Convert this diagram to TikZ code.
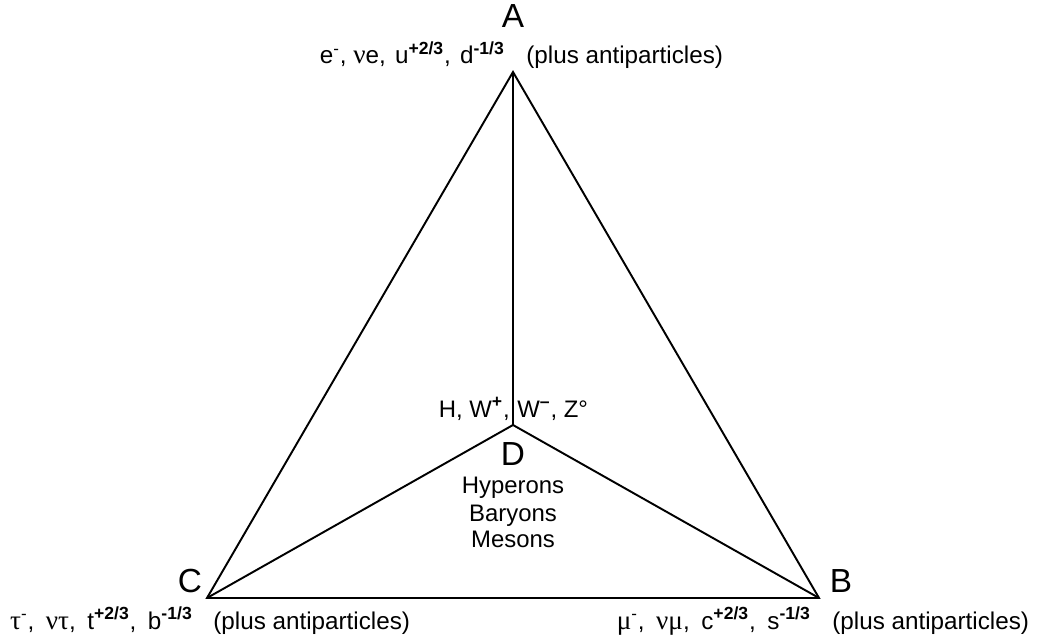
\documentclass[tikz,border=0pt]{standalone}
\usepackage{fontspec}
\setmainfont{Liberation Sans}
\newfontfamily\grk[Scale=1.12]{Liberation Serif}
\newcommand{\chg}[1]{\textsuperscript{\fontsize{10}{12}\selectfont\bfseries #1}}
\newcommand{\wsp}{\hspace{0.2em}}

\begin{document}
\begin{tikzpicture}[x=0.02cm, y=-0.02cm,
    vertexlbl/.style={font=\fontsize{19}{22}\selectfont, inner sep=0pt, anchor=base},
    partlbl/.style={font=\fontsize{13.8}{16}\selectfont, inner sep=0pt, anchor=base},
    hadronlbl/.style={font=\fontsize{13.6}{16}\selectfont, inner sep=0pt, anchor=base}]
  \useasboundingbox (0,0) rectangle (1037,638);
  % corners of the triangle and the centre point
  \coordinate (A) at (513,72);
  \coordinate (B) at (819,598);
  \coordinate (C) at (207,598);
  \coordinate (D) at (513,425);
  \draw[line width=1.1pt] (A) -- (B) -- (C) -- cycle;
  \draw[line width=1.1pt] (A) -- (D) (B) -- (D) (C) -- (D);
  % vertex letters
  \node[vertexlbl] (lblA) at (513,28) {A};
  \node[vertexlbl] (lblB) at (841,592) {B};
  \node[vertexlbl] (lblC) at (190,592) {C};
  \node[vertexlbl] (lblD) at (513,465) {D};
  % particle families
  \node[partlbl, anchor=base east] (partA) at (505,64) {e\textsuperscript{-}, {\grk ν}e,\hspace{0.1em} u\chg{+2/3},\hspace{0.1em} d\chg{-1/3}};
  \node[partlbl, anchor=base west] (antiA) at (526,64) {(plus antiparticles)};
  \node[partlbl, anchor=base east] (partC) at (193,629) {{\grk τ}\textsuperscript{-},\wsp{} {\grk ντ},\wsp{} t\chg{+2/3},\wsp{} b\chg{-1/3}};
  \node[partlbl, anchor=base west] (antiC) at (213,629) {(plus antiparticles)};
  \node[partlbl, anchor=base east] (partB) at (811,629) {{\grk μ}\textsuperscript{-},\wsp{} {\grk νμ},\wsp{} c\chg{+2/3},\wsp{} s\chg{-1/3}};
  \node[partlbl, anchor=base west] (antiB) at (832,629) {(plus antiparticles)};
  % bosons and hadrons
  \node[hadronlbl, anchor=base east] (bosL) at (510,417) {H, W\chg{+},};
  \node[hadronlbl, anchor=base west] (bosR) at (517,417) {W\chg{–}, Z°};
  \node[hadronlbl] (hyp) at (513,493) {Hyperons};
  \node[hadronlbl] (bar) at (513,521) {Baryons};
  \node[hadronlbl] (mes) at (513,547) {Mesons};
\end{tikzpicture}
\end{document}
